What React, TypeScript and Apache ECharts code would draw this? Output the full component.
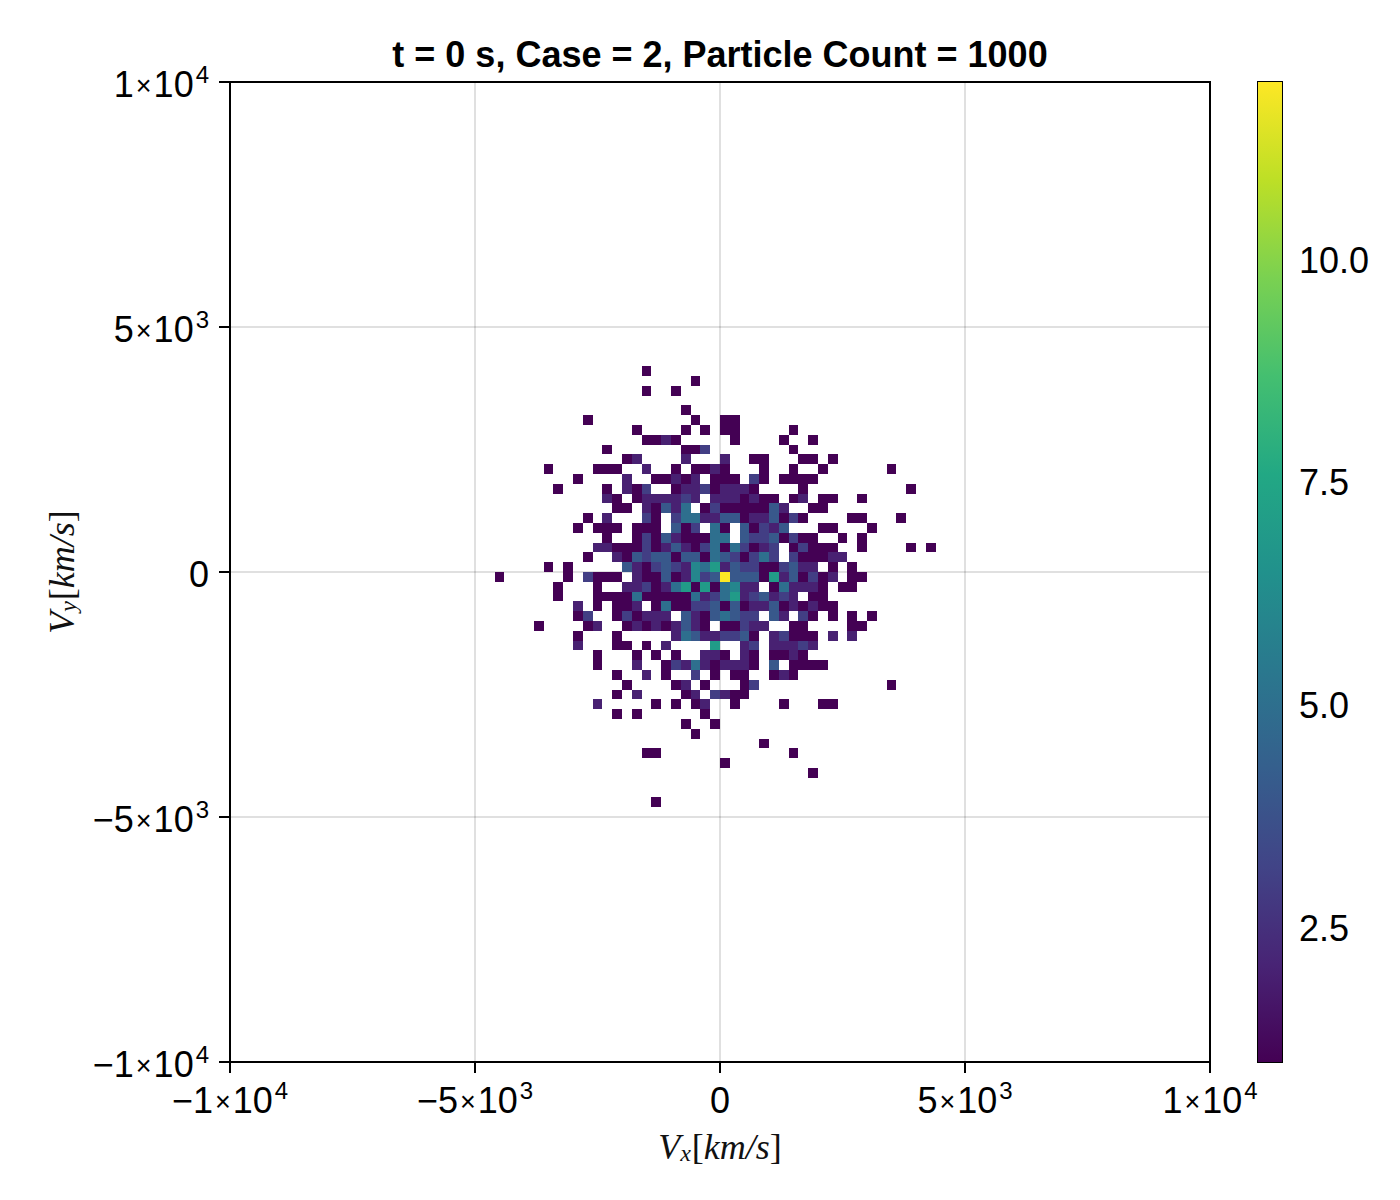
import React, { useEffect, useRef } from "react";
import * as echarts from "echarts";

const titleText = "t = 0 s, Case = 2, Particle Count = 1000";
const axisRange = [-10000, 10000];
const axisStep = 5000;
const binWidth = 200;
const colorRange = [1, 12];
const colorbarTicks = [2.5, 5, 7.5, 10];
const viridis = ["#440154", "#482475", "#414487", "#355f8d", "#2a788e", "#21918c", "#22a884", "#44bf70", "#7ad151", "#bddf26", "#fde725"];

// One entry per row of the histogram: y-bin index, then pairs of x-bin index and count.
const histogramRows: number[][] = [
  [20, -8, 1],
  [19, -3, 1],
  [18, -8, 1, -5, 1],
  [16, -4, 1],
  [15, -14, 1, -3, 1, 0, 1, 1, 1],
  [14, -9, 1, -4, 1, -2, 1, 0, 1, 1, 1, 7, 1],
  [13, -8, 1, -7, 1, -6, 2, -5, 1, 1, 1, 6, 1, 9, 1],
  [12, -12, 1, -4, 1, -3, 1, -2, 3, 7, 1],
  [11, -10, 1, -9, 2, -4, 2, 0, 2, 3, 1, 4, 1, 8, 1, 9, 1, 11, 1],
  [10, -18, 1, -13, 1, -12, 1, -11, 1, -8, 2, -5, 1, -3, 1, -2, 1, -1, 2, 0, 1, 4, 1, 7, 1, 10, 1, 17, 1],
  [9, -15, 1, -10, 2, -7, 1, -6, 1, -5, 2, -4, 1, -3, 2, -1, 1, 0, 1, 1, 1, 3, 3, 4, 1, 6, 1, 7, 1, 8, 1, 9, 1],
  [8, -17, 1, -12, 1, -10, 2, -9, 1, -8, 3, -5, 1, -4, 2, -3, 2, -2, 3, -1, 1, 0, 2, 1, 2, 2, 2, 3, 1, 8, 1, 19, 1],
  [7, -12, 2, -11, 1, -9, 1, -8, 2, -7, 2, -6, 2, -5, 2, -4, 3, -3, 2, -1, 2, 0, 2, 1, 2, 2, 1, 3, 2, 4, 1, 5, 1, 7, 1, 8, 2, 10, 1, 11, 1, 14, 1],
  [6, -11, 1, -10, 1, -8, 2, -7, 1, -6, 4, -5, 2, -4, 5, -2, 1, -1, 3, 0, 1, 1, 1, 2, 1, 3, 1, 4, 1, 5, 4, 6, 2, 9, 1, 10, 1],
  [5, -14, 1, -12, 2, -8, 3, -7, 1, -5, 3, -4, 5, -3, 5, -2, 2, -1, 2, 0, 4, 1, 4, 2, 1, 3, 2, 4, 2, 5, 4, 6, 1, 7, 3, 8, 1, 13, 1, 14, 1, 18, 1],
  [4, -15, 1, -13, 1, -12, 1, -11, 1, -9, 1, -8, 1, -7, 1, -5, 4, -4, 1, -3, 3, -1, 5, 0, 1, 2, 4, 3, 1, 4, 3, 5, 2, 6, 4, 10, 1, 11, 1, 15, 1],
  [3, -12, 1, -9, 1, -8, 3, -7, 1, -6, 4, -5, 2, -4, 1, -3, 1, -2, 1, -1, 5, 0, 5, 2, 4, 3, 3, 4, 3, 5, 4, 6, 1, 7, 3, 8, 1, 9, 1, 12, 1, 14, 1],
  [2, -13, 2, -12, 2, -11, 1, -10, 1, -9, 1, -8, 3, -7, 1, -6, 2, -5, 4, -4, 2, -3, 1, -2, 3, -1, 5, 0, 1, 1, 5, 2, 3, 3, 1, 4, 2, 5, 3, 7, 1, 8, 3, 9, 1, 10, 1, 11, 1, 14, 1, 19, 1, 21, 1],
  [1, -14, 1, -11, 2, -10, 1, -9, 4, -8, 3, -7, 4, -6, 4, -5, 1, -4, 4, -3, 4, -2, 1, -1, 5, 0, 4, 1, 3, 2, 1, 3, 3, 4, 5, 5, 3, 7, 3, 8, 1, 9, 1, 10, 1, 11, 2, 12, 2],
  [0, -18, 1, -16, 1, -10, 4, -9, 2, -8, 1, -7, 3, -6, 4, -5, 3, -4, 2, -3, 6, -2, 5, -1, 7, 0, 2, 1, 4, 2, 3, 3, 3, 4, 1, 5, 1, 6, 3, 7, 4, 8, 2, 9, 2, 11, 1, 13, 1],
  [-1, -23, 1, -16, 1, -14, 3, -13, 1, -12, 1, -11, 1, -9, 2, -8, 1, -7, 1, -6, 4, -5, 1, -4, 2, -3, 6, -2, 3, -1, 4, 0, 12, 1, 4, 2, 4, 3, 4, 4, 1, 5, 7, 6, 2, 7, 4, 8, 1, 9, 3, 10, 1, 11, 2, 13, 1, 14, 1],
  [-2, -17, 1, -13, 1, -10, 2, -9, 2, -8, 3, -7, 1, -6, 2, -5, 5, -4, 7, -3, 1, -2, 7, -1, 1, 0, 5, 1, 6, 2, 2, 3, 2, 5, 1, 6, 5, 7, 2, 8, 2, 9, 2, 10, 1, 12, 1, 13, 1],
  [-3, -17, 1, -13, 1, -12, 1, -11, 1, -10, 1, -9, 5, -8, 1, -7, 1, -6, 1, -5, 1, -4, 1, -3, 5, -2, 2, -1, 3, 0, 5, 1, 7, 2, 2, 3, 3, 4, 4, 5, 2, 6, 3, 7, 2, 9, 1, 10, 1],
  [-4, -15, 2, -13, 1, -11, 1, -10, 1, -9, 2, -7, 1, -6, 5, -5, 1, -4, 1, -3, 3, -2, 3, -1, 4, 0, 1, 1, 4, 2, 1, 3, 2, 4, 2, 5, 4, 6, 1, 7, 2, 8, 1, 9, 2, 10, 1, 11, 1],
  [-5, -15, 1, -14, 3, -11, 1, -10, 3, -9, 1, -8, 2, -7, 2, -6, 2, -4, 4, -3, 2, -2, 1, -1, 4, 0, 5, 1, 4, 2, 3, 3, 3, 5, 4, 6, 2, 8, 3, 9, 1, 11, 1, 13, 1, 15, 1],
  [-6, -19, 1, -14, 1, -13, 2, -10, 1, -9, 2, -8, 1, -7, 2, -6, 1, -5, 2, -4, 4, -3, 2, -2, 1, 0, 1, 1, 1, 2, 3, 3, 2, 4, 2, 7, 1, 8, 1, 13, 1, 14, 1],
  [-7, -15, 1, -11, 1, -5, 2, -4, 5, -3, 4, -2, 2, -1, 2, 0, 3, 1, 3, 2, 4, 3, 1, 5, 2, 6, 3, 7, 1, 8, 1, 9, 1, 11, 2, 13, 2],
  [-8, -15, 2, -11, 1, -10, 1, -8, 1, -6, 2, -1, 7, 2, 2, 3, 3, 5, 2, 6, 2, 7, 2, 8, 3, 9, 2],
  [-9, -13, 1, -9, 1, -7, 1, -5, 1, -2, 2, -1, 2, 0, 1, 2, 2, 3, 1, 5, 1, 6, 1, 7, 2, 8, 1],
  [-10, -13, 1, -9, 2, -6, 1, -5, 3, -4, 2, -3, 5, -2, 2, -1, 1, 0, 2, 1, 2, 2, 2, 3, 1, 5, 4, 7, 1, 8, 1, 9, 1, 10, 1],
  [-11, -11, 1, -8, 2, -6, 1, -3, 3, -1, 1, 1, 1, 2, 1, 5, 1, 6, 2, 7, 1],
  [-12, -10, 1, -5, 1, -4, 2, -2, 1, 2, 1, 3, 3, 17, 1],
  [-13, -11, 1, -9, 2, -4, 1, -3, 2, -1, 3, 0, 2, 1, 1, 2, 1],
  [-14, -13, 2, -7, 1, -5, 1, -3, 1, -2, 2, 1, 1, 6, 1, 10, 1, 11, 1],
  [-15, -11, 1, -9, 1, -2, 1],
  [-16, -4, 1, -1, 1],
  [-17, -3, 1],
  [-18, 4, 1],
  [-19, -8, 1, -7, 1, 7, 1],
  [-20, 0, 1],
  [-21, 9, 1],
  [-24, -7, 1],
];

const cells: number[][] = [];
histogramRows.forEach(([yBin, ...pairs]) => {
  for (let k = 0; k < pairs.length; k += 2) {
    cells.push([(pairs[k] + 0.5) * binWidth, (yBin + 0.5) * binWidth, pairs[k + 1]]);
  }
});

const FONT = "'Liberation Sans', Arial, sans-serif";
const SERIF = "'Liberation Serif', serif";
const TICK = 36;

const sciRich = {
  m: { fontFamily: FONT, fontSize: TICK, color: "#000", lineHeight: 40, verticalAlign: "bottom" as const },
  x: { fontFamily: FONT, fontSize: 27, color: "#000", lineHeight: 40, verticalAlign: "bottom" as const, padding: [0, 2, 3, 2] },
  s: { fontFamily: FONT, fontSize: 24, color: "#000", lineHeight: 40, verticalAlign: "bottom" as const, padding: [3, 0, 16, 2] },
};

function sciLabel(v: number): string {
  if (v === 0) return "{m|0}";
  const sign = v < 0 ? "\u2212" : "";
  const abs = Math.abs(v);
  const exp = Math.floor(Math.log10(abs) + 1e-9);
  const mant = Math.round(abs / Math.pow(10, exp));
  return `{m|${sign}${mant}}{x|\u00d7}{m|10}{s|${exp}}`;
}

const nameRich = {
  i: { fontFamily: SERIF, fontStyle: "italic" as const, fontSize: 36, color: "#111", lineHeight: 44, verticalAlign: "bottom" as const },
  r: { fontFamily: SERIF, fontSize: 36, color: "#111", lineHeight: 44, verticalAlign: "bottom" as const },
  u: { fontFamily: SERIF, fontStyle: "italic" as const, fontSize: 24, color: "#111", lineHeight: 44, verticalAlign: "bottom" as const, padding: [0, 1, 0, 0] },
};

function cellItem(_params: any, api: any) {
  const x = api.value(0);
  const y = api.value(1);
  const half = binWidth / 2;
  const a = api.coord([x - half, y + half]);
  const b = api.coord([x + half, y - half]);
  const left = Math.round(a[0]);
  const top = Math.round(a[1]);
  return {
    type: "rect",
    shape: { x: left, y: top, width: Math.round(b[0]) - left, height: Math.round(b[1]) - top },
    style: { fill: api.visual("color") },
  };
}

function colorbarItem(_params: any, api: any) {
  const a = api.coord([0, api.value(1)]);
  const b = api.coord([1, api.value(0)]);
  return {
    type: "rect",
    shape: { x: a[0], y: a[1], width: b[0] - a[0], height: b[1] - a[1] },
    style: {
      fill: new echarts.graphic.LinearGradient(
        0, 1, 0, 0,
        viridis.map((color, idx) => ({ offset: idx / (viridis.length - 1), color }))
      ),
    },
  };
}

const mainAxis = {
  type: "value" as const,
  min: axisRange[0],
  max: axisRange[1],
  interval: axisStep,
  axisLine: { show: true, onZero: false, lineStyle: { color: "#000", width: 2 } },
  axisTick: { show: true, length: 11, lineStyle: { color: "#000", width: 2 } },
  splitLine: { show: true, lineStyle: { color: "rgba(0,0,0,0.12)", width: 2 } },
  minorTick: { show: false },
  nameLocation: "middle" as const,
  nameTextStyle: { rich: nameRich },
};

export default function App() {
  const ref = useRef<HTMLDivElement>(null);
  useEffect(() => {
    if (!ref.current) return;
    const chart = echarts.init(ref.current, undefined, { renderer: "svg" });
    chart.setOption({
      animation: false,
      backgroundColor: "#fff",
      title: {
        text: titleText,
        left: 715,
        top: 31,
        textAlign: "center",
        textStyle: { fontFamily: FONT, fontWeight: "bold", fontSize: 36, color: "#000" },
      },
      grid: [
        { left: 230, top: 82, width: 980, height: 980, show: true, borderColor: "#000", borderWidth: 2, backgroundColor: "#fff" },
        { left: 1258, top: 82, width: 24, height: 980, show: true, borderColor: "#000", borderWidth: 2, backgroundColor: "transparent" },
      ],
      xAxis: [
        {
          ...mainAxis,
          gridIndex: 0,
          position: "bottom",
          name: "{i|V}{u|x}{r|[}{i|km/s}{r|]}",
          nameGap: 59,
          axisLabel: { margin: 16, formatter: sciLabel, rich: sciRich },
        },
        { type: "value", gridIndex: 1, min: 0, max: 1, show: false },
      ],
      yAxis: [
        {
          ...mainAxis,
          gridIndex: 0,
          position: "left",
          name: "{i|V}{u|y}{r|[}{i|km/s}{r|]}",
          nameGap: 150,
          axisLabel: { margin: 21, formatter: sciLabel, rich: sciRich },
        },
        {
          type: "value",
          gridIndex: 1,
          position: "right",
          min: colorRange[0],
          max: colorRange[1],
          axisLine: { show: false },
          splitLine: { show: false },
          axisTick: { show: true, length: 11, customValues: colorbarTicks, lineStyle: { color: "#000", width: 2 } },
          axisLabel: {
            show: true,
            margin: 17,
            customValues: colorbarTicks,
            formatter: (v: number) => v.toFixed(1),
            fontFamily: FONT,
            fontSize: TICK,
            color: "#000",
          },
        },
      ],
      visualMap: {
        show: false,
        type: "continuous",
        seriesIndex: 0,
        dimension: 2,
        min: colorRange[0],
        max: colorRange[1],
        inRange: { color: viridis },
      },
      series: [
        {
          type: "custom",
          xAxisIndex: 0,
          yAxisIndex: 0,
          coordinateSystem: "cartesian2d",
          renderItem: cellItem,
          encode: { x: 0, y: 1 },
          data: cells,
          silent: true,
          z: 3,
        },
        {
          type: "custom",
          xAxisIndex: 1,
          yAxisIndex: 1,
          coordinateSystem: "cartesian2d",
          renderItem: colorbarItem,
          encode: { y: [0, 1] },
          data: [colorRange],
          silent: true,
          z: 1,
        },
      ],
    });
    return () => chart.dispose();
  }, []);
  return <div ref={ref} style={{ position: "absolute", left: 0, top: 0, width: 1400, height: 1200 }} />;
}
